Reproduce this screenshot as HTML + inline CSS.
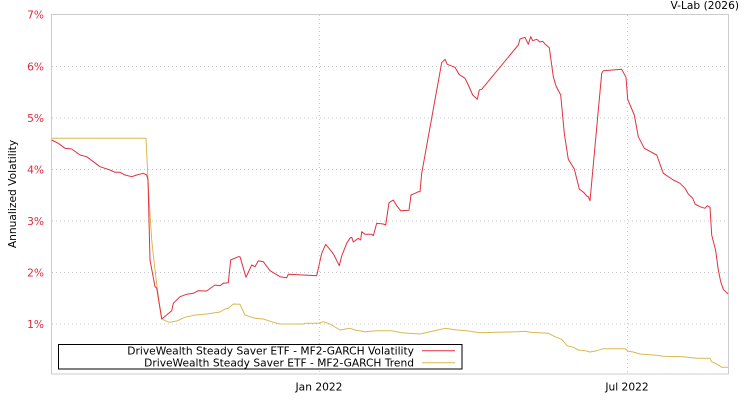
<!DOCTYPE html>
<html><head><meta charset="utf-8"><style>
html,body{margin:0;padding:0;background:#fff;}
svg{display:block;font-family:"DejaVu Sans","Liberation Sans",sans-serif;font-size:10.67px;}
</style></head><body>
<svg width="750" height="400" viewBox="0 0 750 400" xmlns="http://www.w3.org/2000/svg">
<rect width="750" height="400" fill="#fff"/>
<g stroke="#c8c8c8" stroke-width="1" stroke-dasharray="1,3" fill="none">
<line x1="52" y1="66.5" x2="728" y2="66.5"/>
<line x1="52" y1="118" x2="728" y2="118"/>
<line x1="52" y1="169.5" x2="728" y2="169.5"/>
<line x1="52" y1="221" x2="728" y2="221"/>
<line x1="52" y1="272.5" x2="728" y2="272.5"/>
<line x1="52" y1="324" x2="728" y2="324"/>
<line x1="319.5" y1="15" x2="319.5" y2="374"/>
<line x1="627.5" y1="15" x2="627.5" y2="374"/>
</g>
<rect x="51.5" y="14.5" width="677" height="359.5" fill="none" stroke="#cccccc" stroke-width="1"/>
<g fill="#dc2a3c" text-anchor="end">
<text x="44" y="18.3">7%</text>
<text x="44" y="70.3">6%</text>
<text x="44" y="121.8">5%</text>
<text x="44" y="173.3">4%</text>
<text x="44" y="224.8">3%</text>
<text x="44" y="276.3">2%</text>
<text x="44" y="327.8">1%</text>
</g>
<text transform="translate(16,194) rotate(-90)" text-anchor="middle" fill="#000">Annualized Volatility</text>
<text x="739" y="9" text-anchor="end" fill="#000">V-Lab (2026)</text>
<text x="319" y="390.5" text-anchor="middle" fill="#000">Jan 2022</text>
<text x="627" y="390.5" text-anchor="middle" fill="#000">Jul 2022</text>
<polyline fill="none" stroke="#d9b851" stroke-width="1" stroke-linejoin="round" points="51.7,138.3 146,138.3 148.3,186.7 151.7,240 155,270 158.3,296.7 161.7,318.3 165,320.7 170,322.3 176.7,321 185,317.3 195,315 206.7,314 220,312 225,309 228.3,308.3 233.3,304 240,304.3 245,315 250,316.7 255,318.3 263.3,319 273.3,322.3 280,324 303.3,324 305,323.3 318.3,323.3 323.3,321.7 330,324 340,330 350,328.3 355,330 365,331.7 376.7,330.7 391.7,330.7 401.7,332.7 420,334 433.3,331 445,328.3 456.7,330 466.7,330.7 480,332.7 496.7,332.3 518.3,331.7 525,331.3 530,332.3 548.3,333.3 555,336.7 561.7,339.3 567.3,345.7 573.3,347.3 578.3,350 585,350.7 590,352 596.7,350.7 603.3,348.7 625,348.7 628.3,351.3 633.3,352 640,354 656.7,355.3 663.3,356.3 683.3,356.7 696.7,358.3 710,358.3 711.7,361.7 716.7,364 721.7,367.3 728,367.3"/>
<polyline fill="none" stroke="#e0313f" stroke-width="1" stroke-linejoin="round" points="51.7,140 58.3,143.3 65,148.3 71.7,149 80,155 86.7,156.7 93.3,161.7 100,166.7 110,170 115,172.3 120,172.3 125,175 131.7,176.7 136.7,175 143.3,173.3 146.7,175 148,180 150,260 155,286.7 156.7,288 161.7,319 166.7,315 171.7,310.7 173.3,303.3 180,296.7 186.7,294.3 193.3,293.3 198.3,290.7 206.7,291 215,285 220,285.7 223.3,283.3 228.3,282.7 230.7,260 238.3,256.7 240,256.7 246,277.3 251.7,265 255,266.7 258.3,260.7 263.3,261.7 270,270.7 280,276.7 286.7,277.7 288.3,274.3 303.3,275 316.7,275.7 321.7,253.3 325.7,244.3 331.7,251.7 334,255 339.3,265.7 341.7,256 346.7,243.3 350,238 351.7,237.3 353.3,242 358.3,238.3 360.7,240 361.7,231.7 365,234.3 371.7,234.3 373.3,235.7 376.7,223.3 383.3,224 385.7,225 389,202.7 393.3,200 396.7,205.7 400.7,210.7 409,210.3 411,195 415,193.3 418.3,191.7 420,191.7 421.7,173.3 441.7,62.7 445,59.3 447.3,64.3 455,67.3 459,74.3 465,78.3 468.3,85 472.7,95 477.3,99.3 479.3,90 481.7,89.3 518.3,45 520,39 525,37.3 528.3,44.3 530.7,36.7 532.7,40.7 536.7,39.3 540,42 542.7,41.3 545,44 549.3,47.7 553.3,76.7 556,86 560.7,95 564.3,133.3 568.3,159.3 574.3,169 579.3,189 584,192.7 586.7,196 588.3,196.7 590,200.7 601.7,73.3 603.3,70.7 621.7,69.3 626,77.3 627.7,99.3 634.3,115 638.3,136.7 644.3,148.3 656.7,155 663.3,173.3 673.3,180 680,183.3 685,188.3 688.3,194 692.7,198.3 695,204 700,206.7 705,208.3 707.3,205.7 710,207.3 711.7,235 715.7,250.7 718.3,270 720.7,281.7 723.3,289.3 726.7,292.7 728,294"/>
<rect x="58.5" y="344.5" width="403.5" height="24.5" fill="#fff" stroke="#000" stroke-width="1"/>
<text x="414" y="354.7" text-anchor="end" fill="#000">DriveWealth Steady Saver ETF - MF2-GARCH Volatility</text>
<text x="414" y="366.5" text-anchor="end" fill="#000">DriveWealth Steady Saver ETF - MF2-GARCH Trend</text>
<line x1="422" y1="350.7" x2="455" y2="350.7" stroke="#e0313f" stroke-width="1"/>
<line x1="422" y1="362.7" x2="455" y2="362.7" stroke="#d9b851" stroke-width="1"/>
</svg>
</body></html>
